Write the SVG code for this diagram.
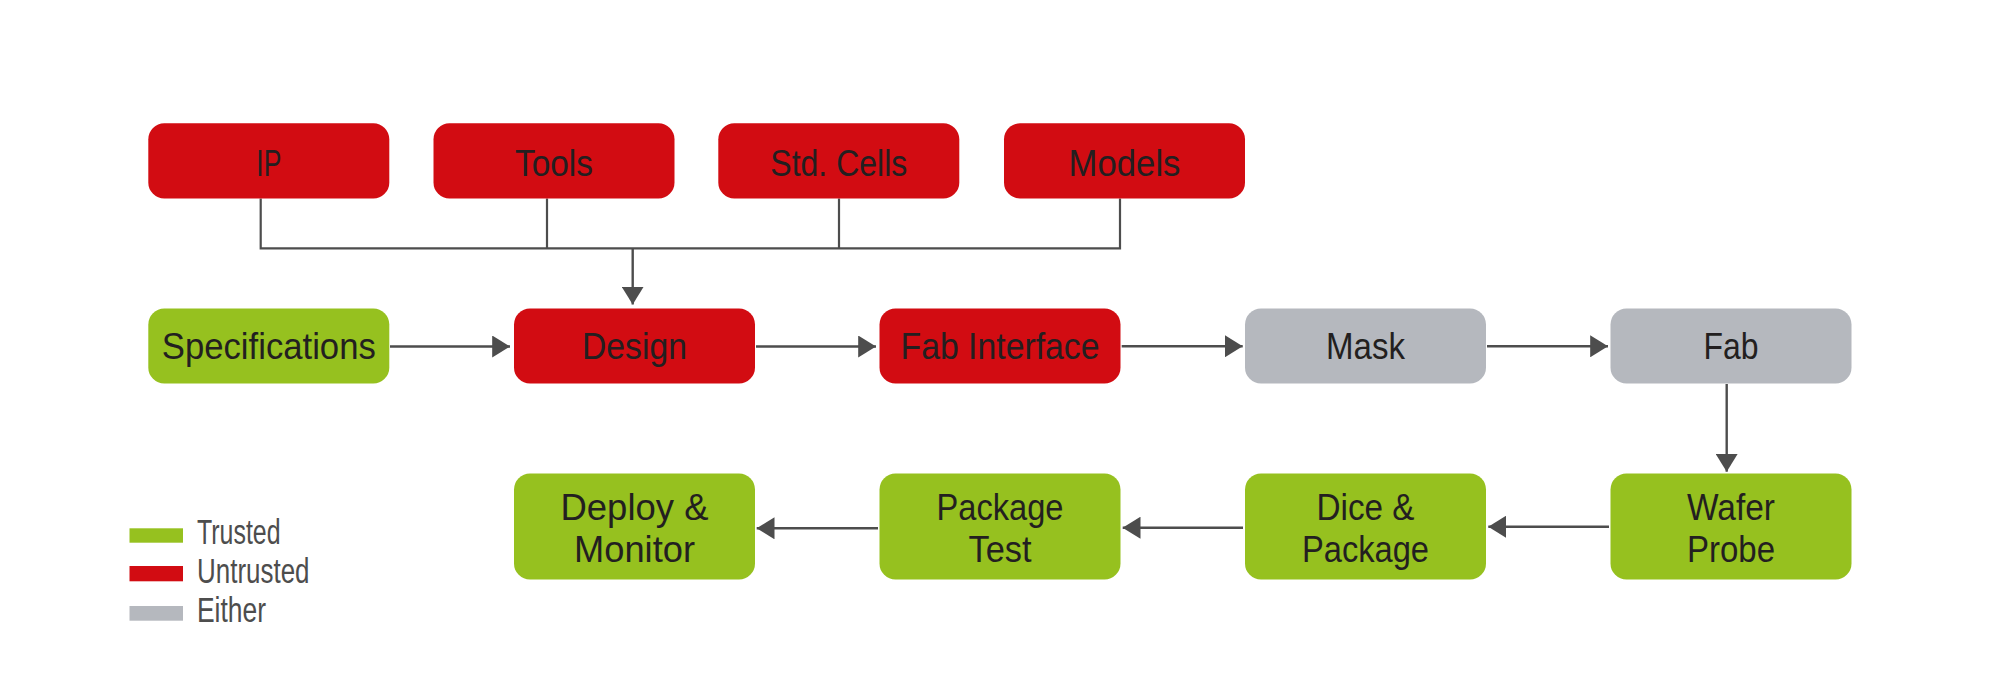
<svg xmlns="http://www.w3.org/2000/svg" width="1991" height="676" viewBox="0 0 1991 676">
<defs>
<style>
.red{fill:#D20C12}
.green{fill:#96C11F}
.gray{fill:#B5B8BE}
.lbl{font-family:"Liberation Sans",Arial,sans-serif;font-size:37px;fill:#231F20;text-anchor:middle}
.leg{font-family:"Liberation Sans",Arial,sans-serif;font-size:35px;fill:#4D4D4D}
.ln{fill:none;stroke:#4D4D4D;stroke-width:2.2}
.ar{fill:none;stroke:#4D4D4D;stroke-width:2.4;marker-end:url(#ah)}
</style>
<marker id="ah" markerUnits="userSpaceOnUse" markerWidth="18" markerHeight="22" viewBox="0 0 17 21" refX="17" refY="10.5" orient="auto">
<path d="M0,0 L17,10.5 L0,21 z" fill="#4D4D4D"/>
</marker>
</defs>
<rect width="1991" height="676" fill="#FFFFFF"/>

<g id="connectors">
<polyline class="ln" points="260.7,198.5 260.7,248.3 1120,248.3 1120,198.5"/>
<line class="ln" x1="547" y1="198.5" x2="547" y2="248.3"/>
<line class="ln" x1="839" y1="198.5" x2="839" y2="248.3"/>
<line class="ar" x1="632.7" y1="248.3" x2="632.7" y2="304.5"/>
<line class="ar" x1="390" y1="346.5" x2="510" y2="346.5"/>
<line class="ar" x1="756" y1="346.5" x2="876" y2="346.5"/>
<line class="ar" x1="1121.7" y1="346.3" x2="1242.7" y2="346.3"/>
<line class="ar" x1="1487" y1="346.3" x2="1608" y2="346.3"/>
<line class="ar" x1="1726.7" y1="384" x2="1726.7" y2="471.7"/>
<line class="ar" x1="1609" y1="526.7" x2="1488.3" y2="526.7"/>
<line class="ar" x1="1243" y1="527.7" x2="1122.7" y2="527.7"/>
<line class="ar" x1="878" y1="528.3" x2="756.7" y2="528.3"/>
</g>

<g id="ip"><rect class="red" x="148.3" y="123.3" width="241" height="75.2" rx="16"/><text class="lbl" x="268.8" y="176" textLength="25" lengthAdjust="spacingAndGlyphs">IP</text></g>
<g id="tools"><rect class="red" x="433.5" y="123.3" width="241" height="75.2" rx="16"/><text class="lbl" x="554" y="176" textLength="78" lengthAdjust="spacingAndGlyphs">Tools</text></g>
<g id="stdcells"><rect class="red" x="718.3" y="123.3" width="241" height="75.2" rx="16"/><text class="lbl" x="838.8" y="176" textLength="137" lengthAdjust="spacingAndGlyphs">Std. Cells</text></g>
<g id="models"><rect class="red" x="1004" y="123.3" width="241" height="75.2" rx="16"/><text class="lbl" x="1124.5" y="176" textLength="112" lengthAdjust="spacingAndGlyphs">Models</text></g>

<g id="specifications"><rect class="green" x="148.3" y="308.5" width="241" height="75" rx="16"/><text class="lbl" x="268.8" y="359" textLength="214" lengthAdjust="spacingAndGlyphs">Specifications</text></g>
<g id="design"><rect class="red" x="514" y="308.5" width="241" height="75" rx="16"/><text class="lbl" x="634.5" y="359" textLength="105" lengthAdjust="spacingAndGlyphs">Design</text></g>
<g id="fabinterface"><rect class="red" x="879.5" y="308.5" width="241" height="75" rx="16"/><text class="lbl" x="1000" y="359" textLength="199" lengthAdjust="spacingAndGlyphs">Fab Interface</text></g>
<g id="mask"><rect class="gray" x="1245" y="308.5" width="241" height="75" rx="16"/><text class="lbl" x="1365.5" y="359" textLength="79" lengthAdjust="spacingAndGlyphs">Mask</text></g>
<g id="fab"><rect class="gray" x="1610.5" y="308.5" width="241" height="75" rx="16"/><text class="lbl" x="1731" y="359" textLength="55" lengthAdjust="spacingAndGlyphs">Fab</text></g>

<g id="deploy"><rect class="green" x="514" y="473.5" width="241" height="106" rx="16"/><text class="lbl" x="634.5" y="520" textLength="148" lengthAdjust="spacingAndGlyphs">Deploy &amp;</text><text class="lbl" x="634.5" y="561.5" textLength="121" lengthAdjust="spacingAndGlyphs">Monitor</text></g>
<g id="packagetest"><rect class="green" x="879.5" y="473.5" width="241" height="106" rx="16"/><text class="lbl" x="1000" y="520" textLength="127" lengthAdjust="spacingAndGlyphs">Package</text><text class="lbl" x="1000" y="561.5" textLength="63" lengthAdjust="spacingAndGlyphs">Test</text></g>
<g id="dice"><rect class="green" x="1245" y="473.5" width="241" height="106" rx="16"/><text class="lbl" x="1365.5" y="520" textLength="98" lengthAdjust="spacingAndGlyphs">Dice &amp;</text><text class="lbl" x="1365.5" y="561.5" textLength="127" lengthAdjust="spacingAndGlyphs">Package</text></g>
<g id="waferprobe"><rect class="green" x="1610.5" y="473.5" width="241" height="106" rx="16"/><text class="lbl" x="1731" y="520" textLength="88" lengthAdjust="spacingAndGlyphs">Wafer</text><text class="lbl" x="1731" y="561.5" textLength="88" lengthAdjust="spacingAndGlyphs">Probe</text></g>

<g id="legend">
<rect class="green" x="129.5" y="528.3" width="53.5" height="14.4"/>
<text class="leg" x="197" y="544.3" textLength="83.5" lengthAdjust="spacingAndGlyphs">Trusted</text>
<rect class="red" x="129.5" y="566" width="53.5" height="15.3"/>
<text class="leg" x="197" y="583.3" textLength="112.5" lengthAdjust="spacingAndGlyphs">Untrusted</text>
<rect class="gray" x="129.5" y="606" width="53.5" height="14.7"/>
<text class="leg" x="197" y="622.3" textLength="69" lengthAdjust="spacingAndGlyphs">Either</text>
</g>
</svg>
